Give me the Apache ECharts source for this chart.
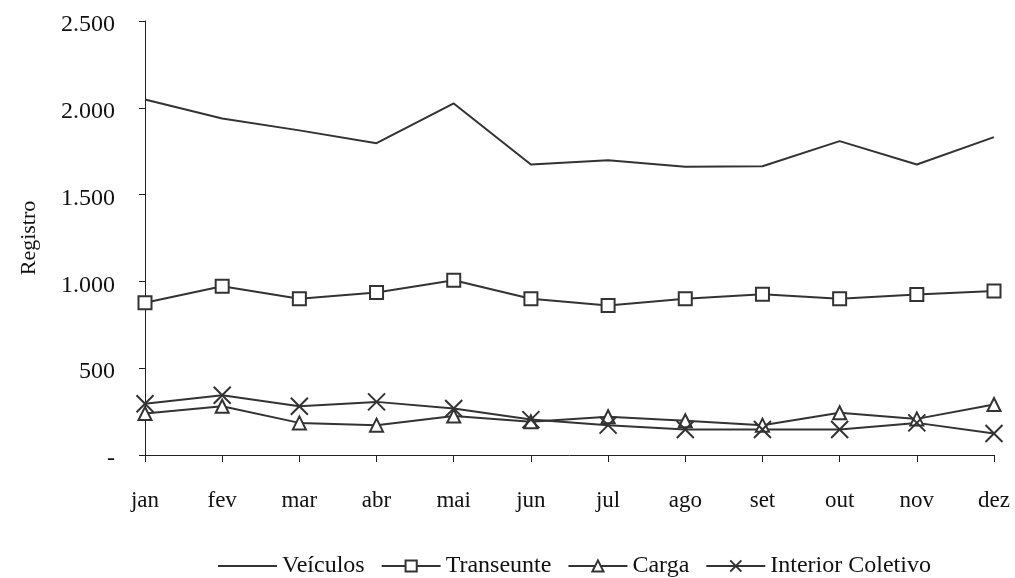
<!DOCTYPE html>
<html>
<head>
<meta charset="utf-8">
<script src="https://cdn.jsdelivr.net/npm/echarts@6/dist/echarts.min.js"></script>
<style>
  html, body { margin: 0; padding: 0; background: #fff; }
  #chart { width: 1015px; height: 578px; }
</style>
</head>
<body>
<div id="chart"></div>
<script>
// Monthly registrations by category
const months = ['jan', 'fev', 'mar', 'abr', 'mai', 'jun', 'jul', 'ago', 'set', 'out', 'nov', 'dez'];
const veiculos = [2048, 1938, 1870, 1796, 2025, 1673, 1698, 1660, 1663, 1808, 1673, 1831];
const transeunte = [877, 972, 900, 936, 1007, 900, 861, 900, 926, 900, 925, 944];
const carga = [239, 281, 185, 172, 224, 191, 220, 197, 172, 243, 208, 291];
const interiorColetivo = [295, 344, 281, 306, 268, 204, 172, 147, 147, 147, 185, 124];

const FONT = '"Liberation Serif", "DejaVu Serif", serif';
const INK = '#333333';

// thousands with a dot, zero shown as a dash
function fmt(v) {
  const s = v === 0 ? '-' : String(v).replace(/\B(?=(\d{3})+(?!\d))/g, '.');
  return '{v|' + s + '}';
}

const crossPath = 'path://M0,0L10,10M10,0L0,10';
const clear = 'rgba(0,0,0,0)';

function lineSeries(name, data, symbol, size, extra) {
  return Object.assign({
    name: name,
    type: 'line',
    data: data,
    symbol: symbol,
    symbolSize: size,
    showAllSymbol: true,
    lineStyle: { color: INK, width: 2 },
    itemStyle: { color: '#ffffff', borderColor: INK, borderWidth: 2 },
    emphasis: { disabled: true },
    animation: false,
    z: 2
  }, extra || {});
}

const chart = echarts.init(document.getElementById('chart'), null, { renderer: 'canvas' });
chart.setOption({
  backgroundColor: '#ffffff',
  animation: false,
  grid: { left: 145, right: 21, top: 21, bottom: 123, containLabel: false },
  legend: {
    top: 549,
    left: 212,
    itemWidth: 59,
    itemHeight: 14,
    itemGap: 16,
    textStyle: { fontFamily: FONT, fontSize: 24, color: '#111' },
    data: ['Veículos', 'Transeunte', 'Carga', 'Interior Coletivo']
  },
  xAxis: {
    type: 'category',
    data: months,
    boundaryGap: false,
    axisLine: { lineStyle: { color: '#222', width: 1 } },
    axisTick: { show: true, length: 7, alignWithLabel: true, lineStyle: { color: '#222' } },
    axisLabel: { fontFamily: FONT, fontSize: 23, color: '#111', margin: 34 },
    splitLine: { show: false }
  },
  yAxis: {
    type: 'value',
    min: 0,
    max: 2500,
    interval: 500,
    name: 'Registro',
    nameLocation: 'middle',
    nameGap: 105,
    nameRotate: 90,
    nameTextStyle: { fontFamily: FONT, fontSize: 22, color: '#111' },
    axisLine: { show: true, lineStyle: { color: '#222', width: 1 } },
    axisTick: { show: true, length: 6, inside: false, lineStyle: { color: '#222' } },
    axisLabel: {
      fontFamily: FONT, fontSize: 24, color: '#111', margin: 30, formatter: fmt,
      rich: { v: { fontFamily: FONT, fontSize: 24, color: '#111', padding: [8, 0, 0, 0] } }
    },
    splitLine: { show: false }
  },
  series: [
    // plain line: the marker is kept invisible so the legend shows only the stroke
    lineSeries('Veículos', veiculos, 'circle', 0, {
      showSymbol: false,
      itemStyle: { color: clear, borderColor: clear, borderWidth: 0 }
    }),
    lineSeries('Transeunte', transeunte, 'rect', 13),
    lineSeries('Carga', carga, 'triangle', 13),
    lineSeries('Interior Coletivo', interiorColetivo, crossPath, 17,
      { itemStyle: { color: clear, borderColor: INK, borderWidth: 2 } })
  ]
});
</script>
</body>
</html>
